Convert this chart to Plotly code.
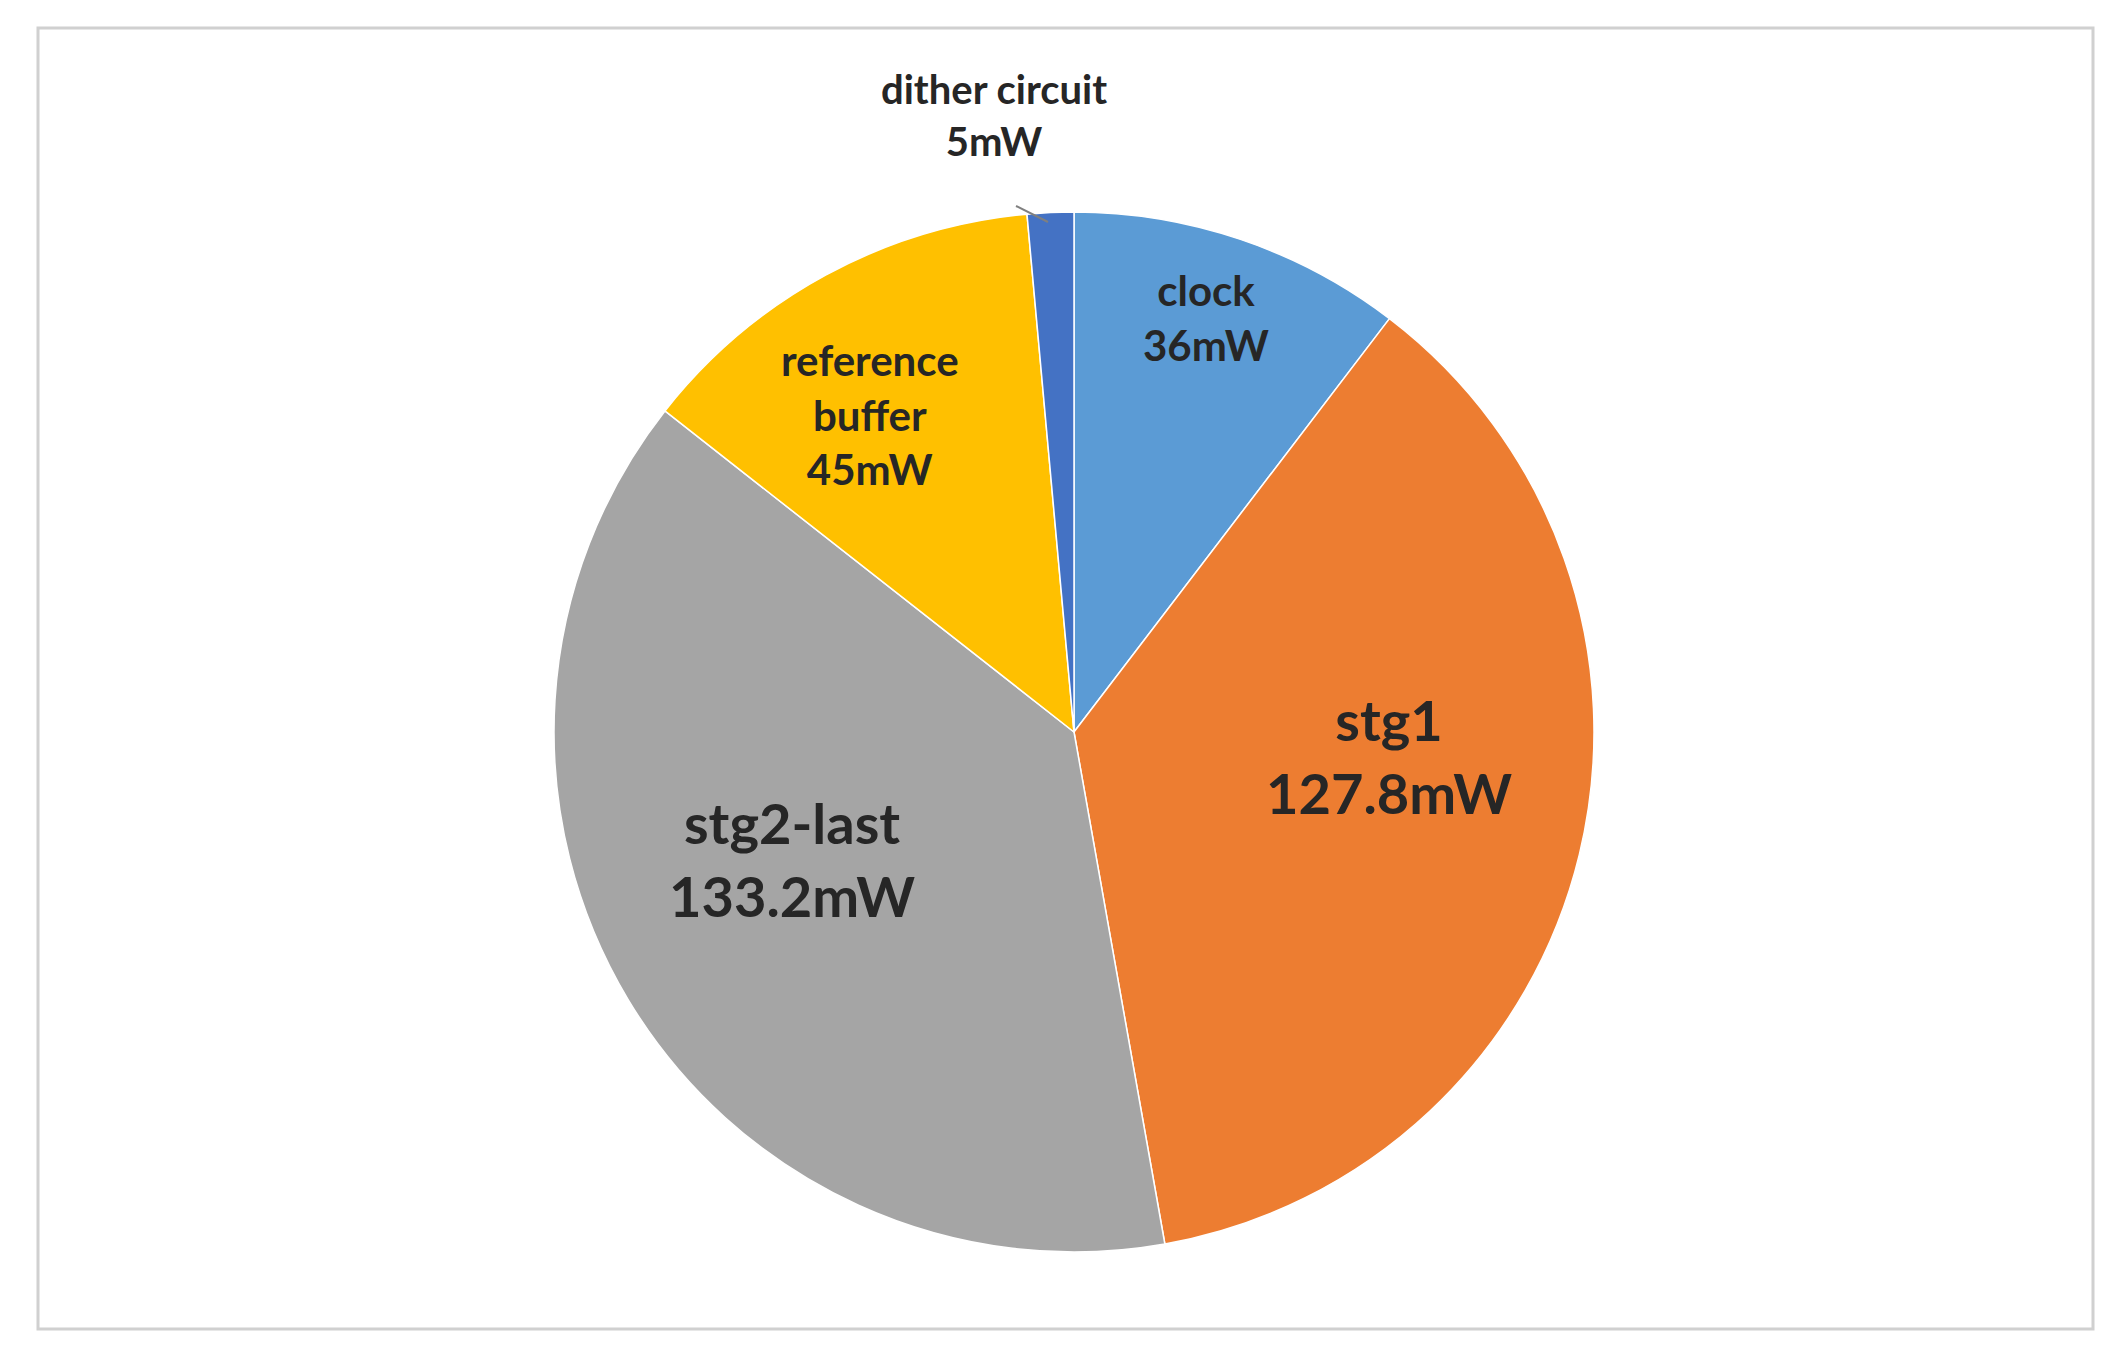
import plotly.graph_objects as go

labels = ["clock", "stg1", "stg2-last", "reference buffer", "dither circuit"]
values = [36, 127.8, 133.2, 45, 5]
colors = ["#5B9BD5", "#ED7D31", "#A5A5A5", "#FFC000", "#4472C4"]

W, H = 2103, 1346
fig = go.Figure(go.Pie(
    labels=labels, values=values, sort=False, direction="clockwise", rotation=0,
    marker=dict(colors=colors, line=dict(color="white", width=1.5)),
    textinfo="none", hoverinfo="label+value", showlegend=False,
    domain=dict(x=[546/W, 1586/W], y=[102/H, 1142/H]),
))

# label layout: (text line breaks, x px, y px, font size)
label_layout = {
    "clock": ("clock<br>36mW", 1198, 310, 42),
    "stg1": ("stg1<br>127.8mW", 1381, 748, 56),
    "stg2-last": ("stg2-last<br>133.2mW", 784, 851, 56),
    "reference buffer": ("reference<br>buffer<br>45mW", 862, 406, 42),
    "dither circuit": ("dither circuit<br>5mW", 986, 107, 40),
}
for lab, v in zip(labels, values):
    txt, x, y, fs = label_layout[lab]
    fig.add_annotation(x=x / W, y=1 - y / H, xref="paper", yref="paper", text="<b>" + txt + "</b>",
                       showarrow=False, font=dict(family="Lato", size=fs, color="#262626"),
                       align="center", yanchor="middle", xanchor="center")

fig.add_shape(type="line", xref="paper", yref="paper", x0=1008 / W, y0=1 - 198 / H, x1=1040 / W, y1=1 - 214 / H,
              line=dict(color="#7f7f7f", width=2))
fig.add_shape(type="rect", xref="paper", yref="paper", x0=30 / W, y0=1 - 20 / H, x1=2085 / W, y1=1 - 1321 / H,
              line=dict(color="#d0d0d0", width=3))

fig.update_layout(width=W, height=H, margin=dict(l=0, r=0, t=0, b=0),
                  paper_bgcolor="white", plot_bgcolor="white")
fig.write_html("out.html")
